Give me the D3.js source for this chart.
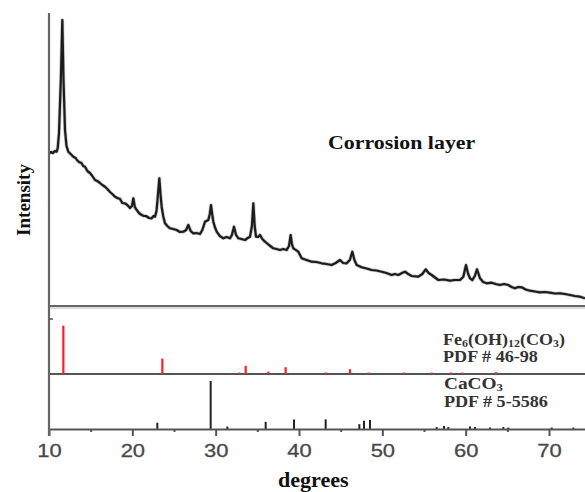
<!DOCTYPE html>
<html>
<head>
<meta charset="utf-8">
<script src="https://cdn.jsdelivr.net/npm/d3@7"></script>
<style>
  html, body { margin: 0; padding: 0; background: #fff; }
  svg { display: block; }
</style>
</head>
<body>
<svg id="chart" width="585" height="492"></svg>
<script>
// ---- Data ----
const scanAngles = [10.00,10.25,10.48,10.7,10.92,11.05,11.20,11.42,11.60,11.74,11.92,12.1,12.32,12.6,12.92,13.2,13.35,13.6,13.9,14.1,14.32,14.6,14.92,15.2,15.52,15.8,16.12,16.4,16.72,17.0,17.32,17.6,17.92,18.2,18.52,18.8,19.12,19.4,19.72,19.95,20.12,20.3,20.44,20.8,21.12,21.4,21.64,22.0,22.32,22.55,22.72,22.9,23.02,23.24,23.4,23.52,23.7,23.92,24.2,24.52,24.9,25.32,25.7,26.12,26.45,26.72,27.0,27.32,27.7,28.12,28.4,28.72,29.12,29.3,29.44,29.58,29.72,29.9,30.12,30.5,30.92,31.3,31.72,31.95,32.20,32.45,32.72,33.1,33.52,33.85,34.12,34.35,34.52,34.68,34.84,35.1,35.32,35.6,35.92,36.4,36.92,37.3,37.72,38.1,38.52,38.8,39.00,39.15,39.32,39.92,40.32,40.9,41.52,42.1,42.72,43.3,43.92,44.4,44.92,45.3,45.72,46.1,46.40,46.65,46.92,47.52,48.1,48.72,49.3,49.92,50.5,51.12,51.5,51.92,52.35,52.72,53.1,53.52,54.32,54.8,55.20,55.55,55.92,56.72,57.4,58.12,58.7,59.32,59.72,60.04,60.3,60.52,60.80,61.1,61.36,61.55,61.72,62.1,62.52,63.12,63.6,64.12,64.6,65.12,65.5,65.92,66.3,66.72,67.2,67.72,68.3,68.92,69.5,70.12,70.7,71.32,71.9,72.52,73.1,73.72,74.32];
const scanIntensity = [152.7,154,153,155,154.3,158,173,226,286,226,176,160,154.3,152,149.3,148,146,144,143,140,139.3,135,133,130,126,125,123,121,119.3,117,114,112,109.3,108,107,103,102.7,101,98,100,107.7,99,97,93,91,90,90,88,87.7,90,89.3,95,106,127.7,110,99.3,90,82.7,80,77.7,77,76,74,74.3,76,81,75,72.7,73,72,76,84.3,86,92,101,92,84.3,79,74.3,70,67.7,69,67.7,71,79.3,71,67.7,67,66,68,69.3,80,102.7,80,69.3,69,71,67,64.3,61,57.7,57,56,57,56,60,71,62,57.7,54.3,47.7,46,44.3,44,42.7,42,41,43,46,43,42.7,46,54.3,46,41,38.7,37.5,36,35.5,34.3,33,31,32,31,33,34.3,32,30,29.3,32,36.7,33,31,26,26.5,25.3,26,26,29.3,41,32,27.7,26,30,36.7,32,27.7,24,22.7,23.3,22,21,22,21,19,17.7,19,18.7,16.5,15.3,14.5,13.7,14,13.3,12.5,12.7,12,11,10,9.3,7.7];

// Fe6(OH)12(CO3) PDF # 46-98 reference lines
const feAngles = [11.72,23.6,32.84,33.6,36.32,38.4,43.24,46.12,48.32,52.6,55.92,58.24,59.6,63.64];
const feIntensity = [100,32,3,17,5,14,3,10,3,3,3,3,3,4];

// CaCO3 PDF # 5-5586 reference lines
const caAngles = [23.0,29.4,31.4,36.0,39.4,43.2,47.24,47.8,48.52,56.52,57.4,57.92,60.52,61.12,62.92,64.52,65.12,70.32,72.92];
const caIntensity = [13,100,5,15,20,20,10,17,19,4,6,4,5,4,3,4,3,3,3];

const xTicks = [10,20,30,40,50,60,70];
const xMinorTicks = [15,25,35,45,55,65];

const chartTitle = "Corrosion layer";
const xLabel = "degrees";
const yLabel = "Intensity";

// ---- Drawing ----
const svg = d3.select("#chart");
const axisColor = "#555";

const x = d3.scaleLinear().domain([10, 74.32]).range([49, 585]);
const yTop = d3.scaleLinear().domain([0, 292]).range([306, 14]);
const yFe = d3.scaleLinear().domain([0, 100]).range([374, 325.7]);
const yCa = d3.scaleLinear().domain([0, 100]).range([429, 381]);

// horizontally stretch a text so that it spans a given width
function stretchTo(sel, width) {
  const node = sel.node();
  const bb = node.getBBox();
  const k = width / bb.width;
  const x0 = bb.x;
  sel.attr("transform", `translate(${x0},0) scale(${k},1) translate(${-x0},0)`);
}

// panel separators
svg.append("line").attr("x1", x(10)).attr("x2", x(74.32))
  .attr("y1", yTop(0)).attr("y2", yTop(0))
  .attr("stroke", "#666").attr("stroke-width", 2.2);
svg.append("line").attr("x1", x(10)).attr("x2", x(74.32))
  .attr("y1", yTop(0) + 2).attr("y2", yTop(0) + 2)
  .attr("stroke", "#bbb").attr("stroke-width", 1);
svg.append("line").attr("x1", x(10)).attr("x2", x(74.32))
  .attr("y1", yFe(0)).attr("y2", yFe(0))
  .attr("stroke", axisColor).attr("stroke-width", 2);

// scan line (soft halo + dark core to mimic the scanned trace)
const line = d3.line().x((d, i) => x(scanAngles[i])).y(d => yTop(d));
svg.append("path").datum(scanIntensity)
  .attr("d", line).attr("fill", "none")
  .attr("stroke", "#999").attr("stroke-width", 3.6)
  .attr("stroke-linejoin", "round").attr("opacity", 0.6);
svg.append("path").datum(scanIntensity)
  .attr("d", line).attr("fill", "none")
  .attr("stroke", "#1c1c1c").attr("stroke-width", 2.2)
  .attr("stroke-linejoin", "round");

// Fe sticks
svg.append("g").selectAll("line").data(feIntensity).join("line")
  .attr("x1", (d, i) => x(feAngles[i])).attr("x2", (d, i) => x(feAngles[i]))
  .attr("y1", yFe(0)).attr("y2", d => yFe(d))
  .attr("stroke", "#ff1f1f").attr("stroke-width", 2.2);

// CaCO3 sticks
svg.append("g").selectAll("line").data(caIntensity).join("line")
  .attr("x1", (d, i) => x(caAngles[i])).attr("x2", (d, i) => x(caAngles[i]))
  .attr("y1", yCa(0)).attr("y2", d => yCa(d))
  .attr("stroke", "#222").attr("stroke-width", 2);

// x axis
const xAxis = d3.axisBottom(x).tickValues(xTicks).tickSize(7).tickSizeOuter(0).tickPadding(8);
const gx = svg.append("g").attr("transform", `translate(0,${yCa(0)})`).call(xAxis);
gx.select(".domain").attr("stroke", axisColor).attr("stroke-width", 2);
gx.selectAll(".tick line").attr("stroke", axisColor).attr("stroke-width", 2);
gx.selectAll(".tick text")
  .attr("font-family", "'Liberation Sans', Arial, sans-serif")
  .attr("font-size", 18).attr("fill", "#484848")
  .attr("stroke", "#484848").attr("stroke-width", 0.3)
  .attr("transform", "scale(1.22,1)");

const xMinor = d3.axisBottom(x).tickValues(xMinorTicks).tickSize(3).tickSizeOuter(0).tickFormat("");
const gm = svg.append("g").attr("transform", `translate(0,${yCa(0)})`).call(xMinor);
gm.select(".domain").remove();
gm.selectAll(".tick line").attr("stroke", axisColor).attr("stroke-width", 2);

// left axis
svg.append("line").attr("x1", x(10)).attr("x2", x(10))
  .attr("y1", 13).attr("y2", yCa(0) + 7)
  .attr("stroke", "#666").attr("stroke-width", 2.2);
svg.append("line").attr("x1", x(10)).attr("x2", x(10) + 4)
  .attr("y1", 319).attr("y2", 319)
  .attr("stroke", axisColor).attr("stroke-width", 1.5);

// texts
const serif = "'Liberation Serif', 'Times New Roman', serif";
const title = svg.append("text").attr("x", 328).attr("y", 149)
  .attr("font-family", serif).attr("font-weight", "bold").attr("font-size", 19)
  .attr("fill", "#111").text(chartTitle);
stretchTo(title, 148);

svg.append("text").attr("transform", "translate(30,200) rotate(-90)")
  .attr("text-anchor", "middle")
  .attr("font-family", serif).attr("font-weight", "bold").attr("font-size", 19)
  .attr("fill", "#111").text(yLabel);

const xl = svg.append("text").attr("x", 278).attr("y", 487)
  .attr("font-family", serif).attr("font-weight", "bold").attr("font-size", 20)
  .attr("fill", "#111").text(xLabel);
stretchTo(xl, 71);

function formula(xp, yp, parts, width) {
  const t = svg.append("text").attr("x", xp).attr("y", yp)
    .attr("font-family", serif).attr("font-weight", "bold").attr("font-size", 16)
    .attr("fill", "#333");
  parts.forEach(p => {
    const ts = t.append("tspan").text(p[0]);
    if (p[1]) ts.attr("font-size", 10.5).attr("dy", 2.5);
    else if (p[2]) ts.attr("dy", -2.5);
  });
  stretchTo(t, width);
}
formula(443, 345, [["Fe"],["6",1],["(OH)",0,1],["12",1],["(CO",0,1],["3",1],[")",0,1]], 122);
const p1 = svg.append("text").attr("x", 443).attr("y", 362)
  .attr("font-family", serif).attr("font-weight", "bold").attr("font-size", 16)
  .attr("fill", "#333").text("PDF # 46-98");
stretchTo(p1, 95);
formula(444, 389, [["CaCO"],["3",1]], 59);
const p2 = svg.append("text").attr("x", 444).attr("y", 407)
  .attr("font-family", serif).attr("font-weight", "bold").attr("font-size", 16)
  .attr("fill", "#333").text("PDF # 5-5586");
stretchTo(p2, 104);
</script>
</body>
</html>
